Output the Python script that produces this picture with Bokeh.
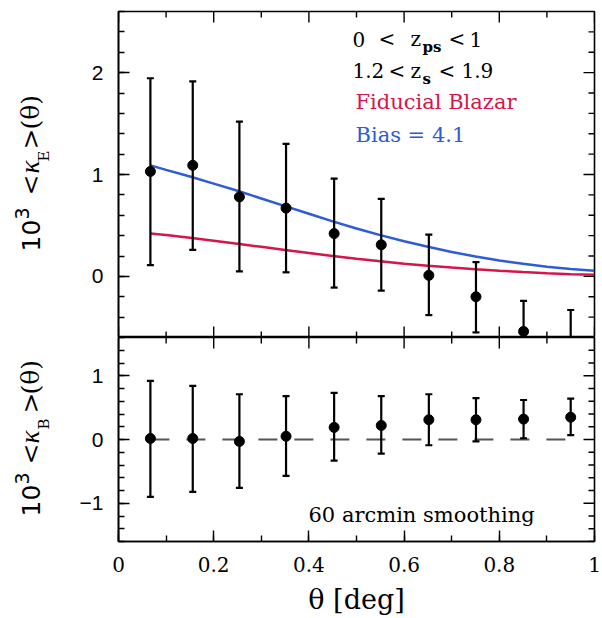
import math
import numpy as np
from bokeh.plotting import figure
from bokeh.models import Range1d, LinearAxis, SingleIntervalTicker, Label, ColumnDataSource
from bokeh.layouts import column, row
from bokeh.embed import file_html
from bokeh.resources import INLINE

# ---------------- data ----------------
theta = [0.067, 0.156, 0.254, 0.352, 0.453, 0.552, 0.652, 0.751, 0.851, 0.950]
kappa_E = [1.03, 1.09, 0.78, 0.67, 0.42, 0.31, 0.01, -0.20, -0.54, -0.68]
kappa_E_hi = [1.945, 1.915, 1.52, 1.30, 0.96, 0.76, 0.41, 0.14, -0.24, -0.33]
kappa_E_lo = [0.11, 0.26, 0.05, 0.04, -0.11, -0.14, -0.38, -0.55, -0.85, -1.00]
kappa_B = [0.016, 0.016, -0.03, 0.05, 0.19, 0.22, 0.31, 0.31, 0.32, 0.35]
kappa_B_hi = [0.92, 0.84, 0.71, 0.68, 0.73, 0.68, 0.71, 0.65, 0.62, 0.64]
kappa_B_lo = [-0.90, -0.82, -0.76, -0.57, -0.33, -0.22, -0.09, -0.03, 0.02, 0.07]

model_theta = [0.067, 0.1, 0.15, 0.2, 0.25, 0.3, 0.35, 0.4, 0.45, 0.5,
               0.55, 0.6, 0.65, 0.7, 0.75, 0.8, 0.85, 0.9, 0.95, 1.0]
bias_model = [1.09, 1.045, 0.98, 0.91, 0.84, 0.765, 0.69, 0.615, 0.54, 0.47,
              0.405, 0.345, 0.29, 0.24, 0.195, 0.155, 0.123, 0.095, 0.073, 0.056]
blazar_model = [0.42, 0.405, 0.38, 0.35, 0.32, 0.29, 0.26, 0.23, 0.20, 0.173,
                0.148, 0.125, 0.105, 0.087, 0.07, 0.055, 0.042, 0.031, 0.022, 0.016]

zero_line_x = [0.067, 0.950]
zero_line_y = [0.0, 0.0]

RED = "#d6154a"
BLUE = "#2e5bd6"
SERIF = "DejaVu Serif"
SANS = "Liberation Sans"

LABEL_W = 68
FRAME_L, FRAME_R = 118, 594
TOP_T, MID, BOT_B = 11, 337, 541
TOP_RANGE = (-0.6, 2.6)
BOT_RANGE = (-1.6, 1.6)
BASE_SHIFT = 0.4  # Label anchor sits ~0.4 em above the drawn baseline

X_MAJOR = np.round(np.arange(0, 1.0001, 0.2), 3)
X_MINOR = np.round(np.arange(0.1, 1.0, 0.2), 3)


def tick_marks(p, yr):
    """Inward ticks on the right edge: a dash centred on the frame edge is
    half clipped by the frame, leaving an inward tick."""
    y_major = [v for v in range(-3, 4) if yr[0] <= v <= yr[1]]
    y_minor = [round(v, 2) for v in np.arange(-3, 3.01, 0.2)
               if yr[0] <= v <= yr[1] and abs(v - round(v)) > 1e-6]
    kw = dict(marker="dash", line_color="black", line_width=1.4)
    p.scatter(x=[1.0] * len(y_major), y=y_major, size=22, **kw)
    p.scatter(x=[1.0] * len(y_minor), y=y_minor, size=12, **kw)


def x_edge_ticks(p, yval):
    kw = dict(marker="dash", line_color="black", line_width=1.4, angle=math.pi / 2)
    p.scatter(x=list(X_MAJOR), y=[yval] * len(X_MAJOR), size=22, **kw)
    p.scatter(x=list(X_MINOR), y=[yval] * len(X_MINOR), size=12, **kw)


def make_fig(yr, fh, with_x_axis):
    p = figure(x_range=Range1d(0, 1), y_range=Range1d(*yr),
               frame_width=FRAME_R - FRAME_L, frame_height=fh,
               output_backend="svg", toolbar_location=None, tools="",
               x_axis_location=None, y_axis_location=None,
               min_border_left=FRAME_L - LABEL_W, min_border_right=602 - FRAME_R,
               min_border_top=0, min_border_bottom=0,
               background_fill_color="white", border_fill_color="white",
               outline_line_color="black", outline_line_width=1.6)
    p.xgrid.visible = False
    p.ygrid.visible = False

    def style(ax):
        ax.major_tick_in = 11
        ax.major_tick_out = 0
        ax.minor_tick_in = 6
        ax.minor_tick_out = 0
        ax.major_tick_line_width = 1.4
        ax.minor_tick_line_width = 1.4
        ax.major_tick_line_color = "black"
        ax.minor_tick_line_color = "black"
        ax.axis_line_color = "black"
        ax.axis_line_width = 1.6

    if with_x_axis:
        ax = LinearAxis(ticker=SingleIntervalTicker(interval=0.2, num_minor_ticks=2))
        style(ax)
        ax.major_label_text_font = SERIF
        ax.major_label_text_font_size = "20px"
        ax.major_label_text_color = "black"
        ax.major_label_standoff = 15
        ax.axis_label = "θ [deg]"
        ax.axis_label_text_font = SERIF
        ax.axis_label_text_font_size = "27px"
        ax.axis_label_text_font_style = "normal"
        ax.axis_label_text_color = "black"
        ax.axis_label_standoff = 9
        p.add_layout(ax, "below")

    ay = LinearAxis(ticker=SingleIntervalTicker(interval=1, num_minor_ticks=5))
    style(ay)
    ay.major_label_text_font = SANS
    ay.major_label_text_font_size = "21px"
    ay.major_label_text_color = "black"
    ay.major_label_standoff = 15
    p.add_layout(ay, "left")

    tick_marks(p, yr)
    return p


# ---------------- top panel ----------------
p1 = make_fig(TOP_RANGE, MID - TOP_T, False)
p1.min_border_top = TOP_T
x_edge_ticks(p1, TOP_RANGE[1])
x_edge_ticks(p1, TOP_RANGE[0])

p1.line(model_theta, blazar_model, line_color=RED, line_width=2.5)
p1.line(model_theta, bias_model, line_color=BLUE, line_width=2.5)

srcE = ColumnDataSource(dict(x=theta, y=kappa_E, hi=kappa_E_hi, lo=kappa_E_lo))
p1.segment(x0="x", y0="lo", x1="x", y1="hi", source=srcE, line_color="black", line_width=2.2)
p1.scatter(x="x", y="hi", source=srcE, marker="dash", size=7, line_color="black", line_width=2.2)
p1.scatter(x="x", y="lo", source=srcE, marker="dash", size=7, line_color="black", line_width=2.2)
p1.scatter(x="x", y="y", source=srcE, marker="circle", size=10, fill_color="black", line_color="black")

# ---------------- bottom panel ----------------
p2 = make_fig(BOT_RANGE, BOT_B - MID, True)
x_edge_ticks(p2, BOT_RANGE[1])

p2.line(zero_line_x, zero_line_y, line_color="#555555", line_width=2, line_dash="19 17")
srcB = ColumnDataSource(dict(x=theta, y=kappa_B, hi=kappa_B_hi, lo=kappa_B_lo))
p2.segment(x0="x", y0="lo", x1="x", y1="hi", source=srcB, line_color="black", line_width=2.2)
p2.scatter(x="x", y="hi", source=srcB, marker="dash", size=7, line_color="black", line_width=2.2)
p2.scatter(x="x", y="lo", source=srcB, marker="dash", size=7, line_color="black", line_width=2.2)
p2.scatter(x="x", y="y", source=srcB, marker="circle", size=10, fill_color="black", line_color="black")


# ---------------- text helpers (pixel positions -> data coordinates) ----------------
def dx(sx):
    return (sx - FRAME_L) / (FRAME_R - FRAME_L)


def dy_top(sy):
    return TOP_RANGE[1] - (sy - TOP_T) * (TOP_RANGE[1] - TOP_RANGE[0]) / (MID - TOP_T)


def dy_bot(sy):
    return BOT_RANGE[1] - (sy - MID) * (BOT_RANGE[1] - BOT_RANGE[0]) / (BOT_B - MID)


def put(p, x, y, txt, size, color="black", font=SERIF, style="normal", angle=0.0):
    p.add_layout(Label(x=x, y=y, text=txt, text_font=font,
                       text_font_size=f"{size}px", text_font_style=style,
                       text_color=color, text_align="left", text_baseline="alphabetic",
                       angle=angle))


def put_top(sx, base_y, txt, size, **kw):
    put(p1, dx(sx), dy_top(base_y - BASE_SHIFT * size), txt, size, **kw)


# annotations, top panel (positions given as left x and baseline y, in pixels)
put_top(352, 46.7, "0", 20)
put_top(378, 46.7, "<", 20)
put_top(410, 46.7, "z", 20)
put_top(422, 52.5, "ps", 15, style="bold")
put_top(448, 46.7, "<", 20)
put_top(469, 46.7, "1", 20)

put_top(352, 78.3, "1.2", 20)
put_top(388, 78.3, "<", 20)
put_top(410, 78.3, "z", 20)
put_top(422, 84, "s", 15, style="bold")
put_top(438, 78.3, "<", 20)
put_top(461, 78.3, "1.9", 20)

put_top(355, 110, "Fiducial Blazar", 21, color=RED)
put_top(355, 143, "Bias = 4.1", 21, color=BLUE)

put(p2, dx(308), dy_bot(523 - BASE_SHIFT * 21), "60 arcmin smoothing", 21)

# ---------------- y-axis titles in a narrow strip on the left ----------------
H = 618
pl = figure(x_range=Range1d(0, LABEL_W), y_range=Range1d(0, H),
            frame_width=LABEL_W, frame_height=H,
            output_backend="svg", toolbar_location=None, tools="",
            x_axis_location=None, y_axis_location=None,
            min_border_left=0, min_border_right=0, min_border_top=0, min_border_bottom=0,
            outline_line_color=None, background_fill_color="white", border_fill_color="white")
pl.xgrid.visible = False
pl.ygrid.visible = False

A = math.pi / 2


def rput(base_x, start_y, txt, size, **kw):
    put(pl, base_x - BASE_SHIFT * size, H - start_y, txt, size, angle=A, **kw)


def ylabel(s10, s3, slt, skap, ssub, sgt, spar, sub):
    rput(40, s10, "10", 25, font="DejaVu Sans")
    rput(29, s3, "3", 19, font="DejaVu Sans")
    rput(40, slt, "<", 25)
    rput(40, skap, "κ", 27, font="Liberation Serif", style="italic")
    rput(49, ssub, sub, 15)
    rput(40, sgt, ">", 25)
    rput(40, spar, "(θ)", 25)


ylabel(251, 219, 195, 173, 161, 149, 129, "E")
ylabel(516, 484, 464, 443, 429, 413, 394, "B")

layout = row(pl, column(p1, p2, spacing=0), spacing=0)
open("out.html", "w").write(file_html(layout, INLINE))
